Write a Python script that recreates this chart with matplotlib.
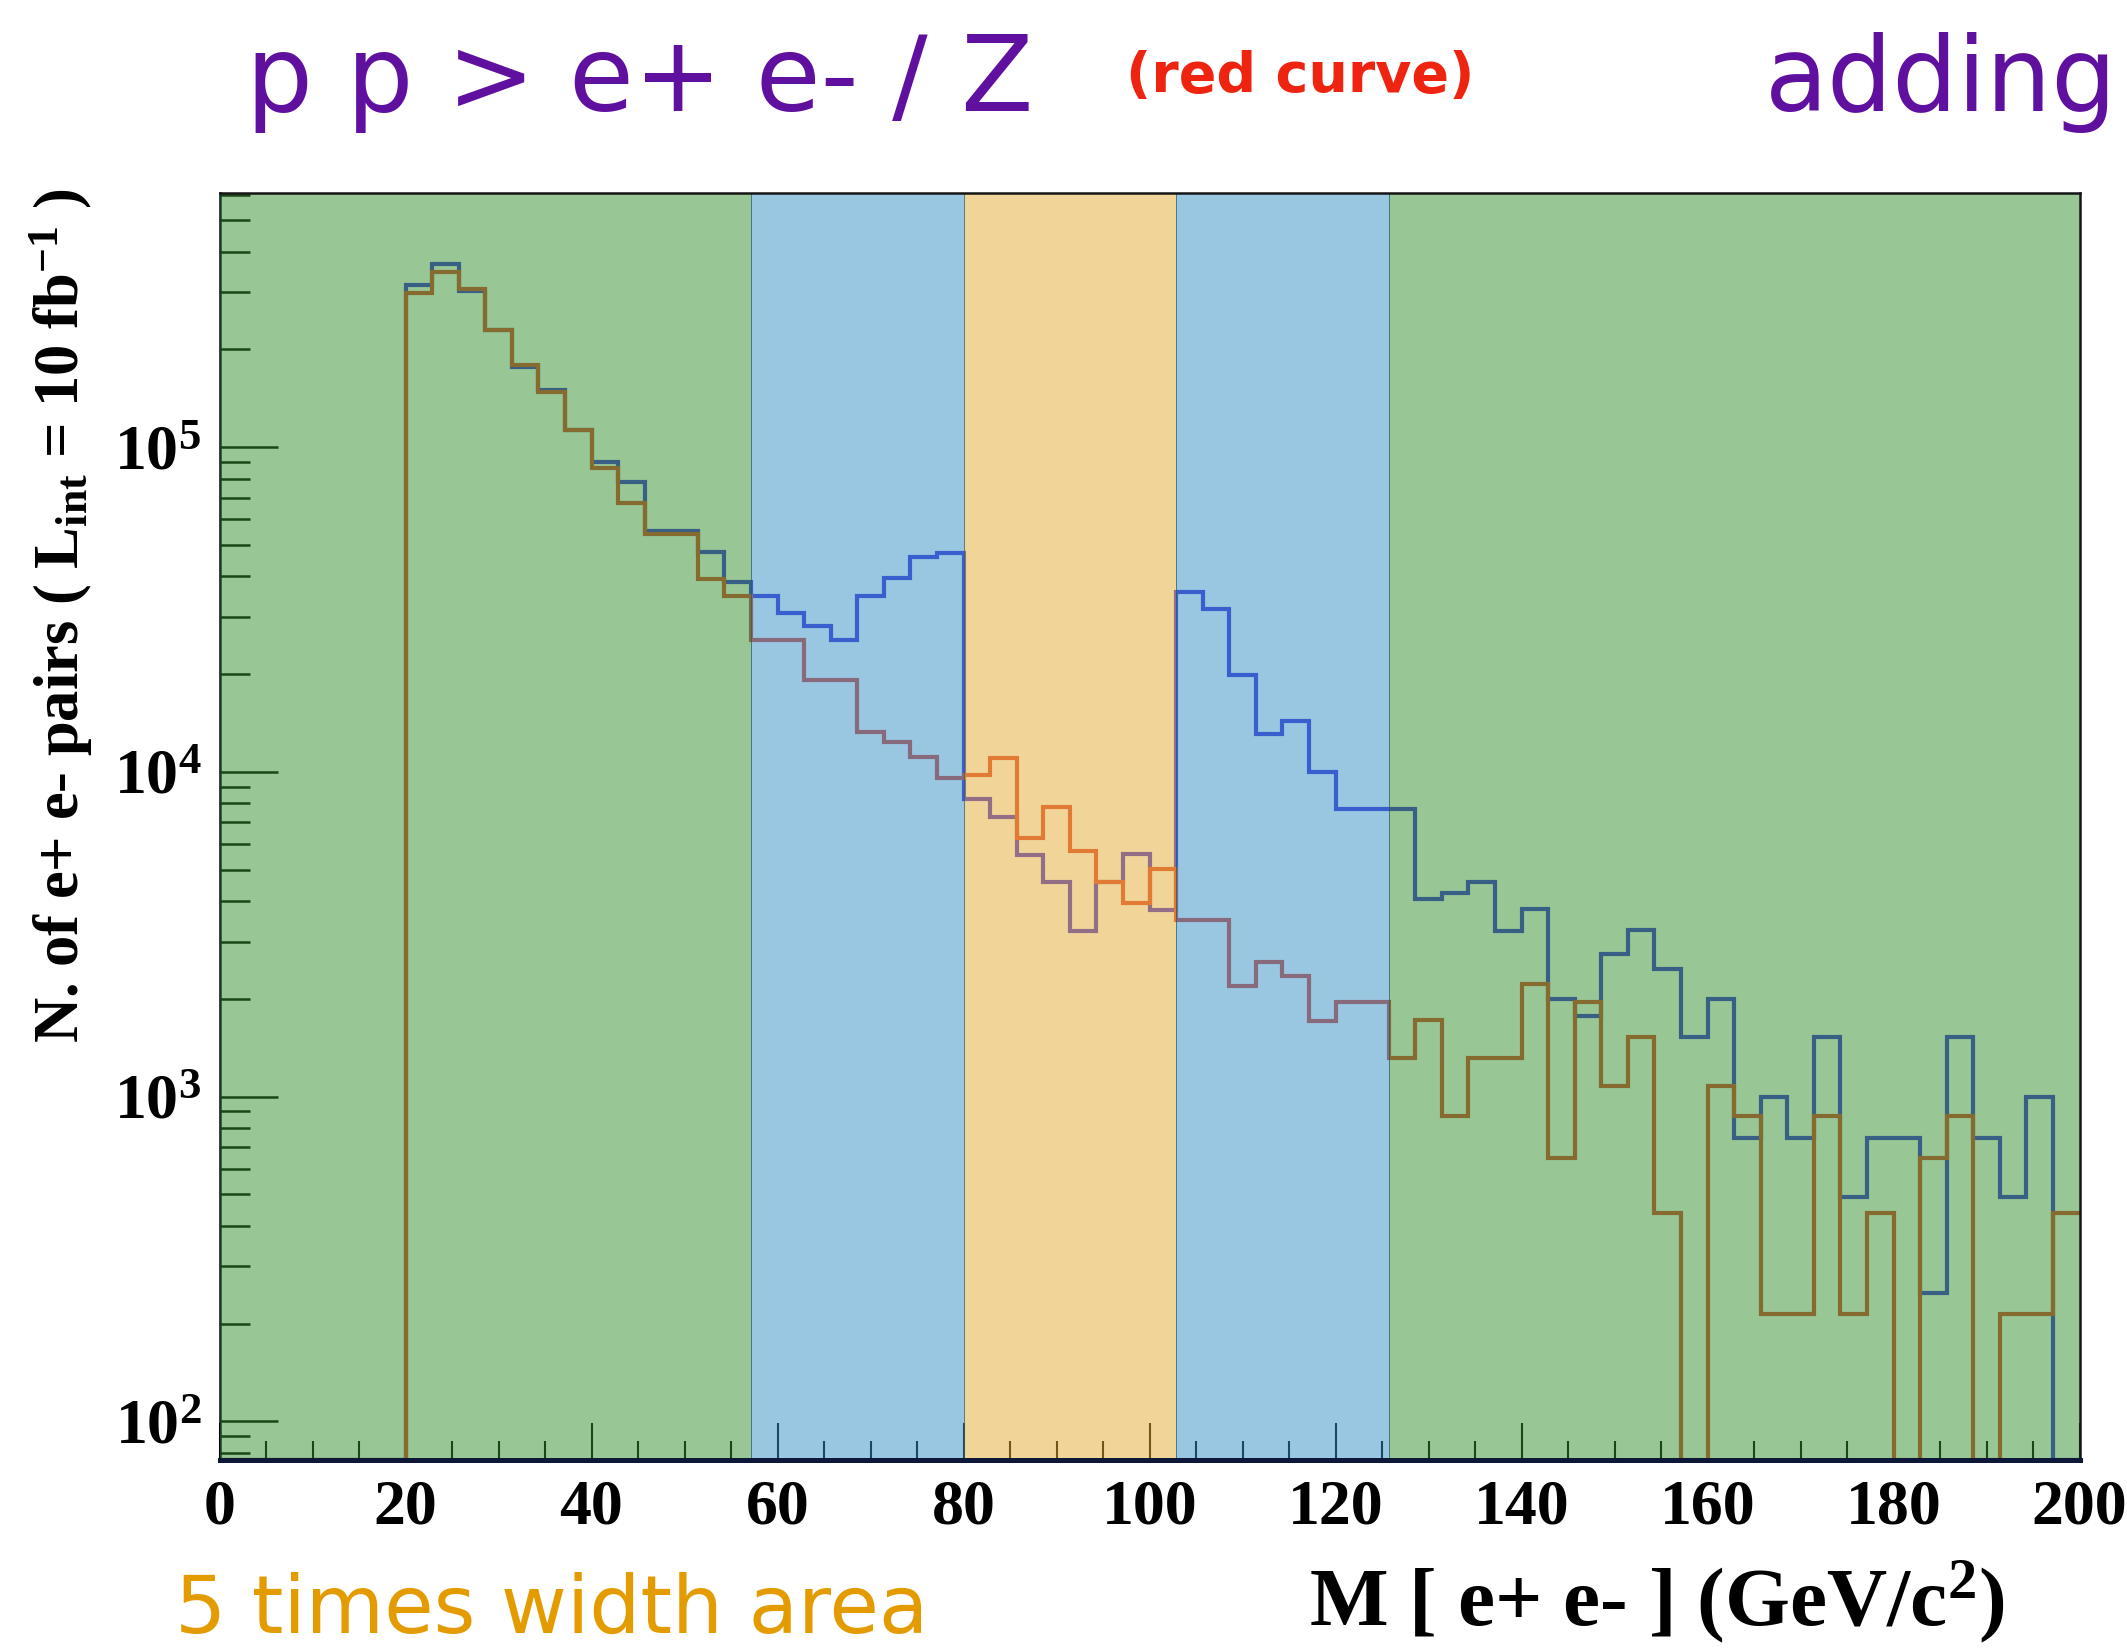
import numpy as np
import matplotlib
matplotlib.use("Agg")
import matplotlib.pyplot as plt
from matplotlib.ticker import FixedLocator, MultipleLocator, LogLocator, LogFormatterMathtext, NullFormatter

# ---- histogram definition: 70 bins between 0 and 200 GeV/c^2 ----
bin_edges = np.linspace(0.0, 200.0, 71)

# e+ e- pairs per bin, Drell-Yan / Z only (red curve)
counts_z = [
    0, 0, 0, 0, 0, 0, 0,
    299000, 347000, 307000, 230000, 179500, 147500, 113000, 86100, 67500, 54200,
    54200, 39300, 34900, 25500, 25500, 19200, 19200, 13300, 12400, 11100,
    9600, 9780, 11000, 6280, 7820, 5690, 4570, 3950, 5040, 3490,
    3490, 2190, 2600, 2350, 1710, 1950, 1950, 1315, 1720, 869,
    1315, 1315, 2215, 648, 1950, 1080, 1530, 437, 0, 1080,
    869, 214, 214, 869, 214, 437, 0, 648, 869, 0,
    214, 214, 437,
]

# e+ e- pairs per bin after adding the extra contribution (blue curve)
counts_added = [
    0, 0, 0, 0, 0, 0, 0,
    315000, 366000, 302000, 230000, 177000, 150000, 113000, 90300, 78300, 55100,
    55100, 47700, 38400, 34900, 30900, 28100, 25400, 34900, 39500, 45800,
    47100, 8260, 7270, 5540, 4570, 3240, 4570, 5570, 3760, 35900,
    31700, 19900, 13100, 14400, 10000, 7670, 7670, 7670, 4060, 4250,
    4570, 3240, 3780, 2000, 1770, 2740, 3260, 2480, 1525, 2000,
    743, 1000, 743, 1525, 491, 743, 743, 249, 1525, 743,
    491, 1000, 0,
]

# mass windows shaded behind the curves
band_edges = [0.0, 57.14, 80.0, 102.86, 125.71, 200.0]
band_colors = ["#338f2d", "#358fc3", "#e5ad33", "#358fc3", "#338f2d"]

x_major_ticks = [0, 20, 40, 60, 80, 100, 120, 140, 160, 180, 200]
y_limits = (76.0, 6.05e5)

# ---- fonts ----
plt.rcParams["font.family"] = ["Liberation Serif", "DejaVu Serif"]
plt.rcParams["font.weight"] = "bold"
plt.rcParams["axes.labelweight"] = "bold"
plt.rcParams["mathtext.fontset"] = "custom"
plt.rcParams["mathtext.rm"] = "Liberation Serif:bold"
plt.rcParams["mathtext.it"] = "Liberation Serif:bold"
plt.rcParams["mathtext.bf"] = "Liberation Serif:bold"
plt.rcParams["mathtext.default"] = "regular"

W, H = 2127, 1651
fig = plt.figure(figsize=(W / 100, H / 100), dpi=100)
fig.patch.set_facecolor("white")

ax_left, ax_right, ax_top, ax_bottom = 219.5, 2079.5, 193.4, 1460.0
ax = fig.add_axes([ax_left / W, 1 - ax_bottom / H,
                   (ax_right - ax_left) / W, (ax_bottom - ax_top) / H])
ax.set_facecolor("white")
ax.set_yscale("log")
ax.set_xlim(bin_edges[0], bin_edges[-1])
ax.set_ylim(*y_limits)
y_floor = ax.get_ylim()[0]

# histogram outlines; empty bins sit on the frame floor
ax.stairs(np.maximum(np.asarray(counts_added, float), y_floor), bin_edges,
          baseline=None, color="#3f2fdd", lw=3.0, zorder=2)
ax.stairs(np.maximum(np.asarray(counts_z, float), y_floor), bin_edges,
          baseline=None, color="#db4737", lw=3.0, zorder=2.1)

# translucent mass windows laid over everything inside the frame
for lo, hi, col in zip(band_edges[:-1], band_edges[1:], band_colors):
    ax.axvspan(lo, hi, facecolor=col, edgecolor="#1d5a6a", lw=0.7,
               alpha=0.5, zorder=3)

# ---- axes styling ----
ax.set_axisbelow(True)
ax.xaxis.set_major_locator(FixedLocator(x_major_ticks))
ax.xaxis.set_minor_locator(MultipleLocator(5))
ax.yaxis.set_major_locator(LogLocator(base=10, numticks=10))
ax.yaxis.set_minor_locator(LogLocator(base=10, subs=np.arange(2, 10), numticks=20))
ax.yaxis.set_major_formatter(LogFormatterMathtext())
ax.yaxis.set_minor_formatter(NullFormatter())

ax.tick_params(axis="y", which="major", direction="in", length=41.8, width=1.8,
               color="black", pad=13, labelsize=46, right=False)
ax.tick_params(axis="y", which="minor", direction="in", length=21.6, width=1.8,
               color="black", right=False)
ax.tick_params(axis="x", which="major", direction="in", length=26.5, width=1.5,
               color="black", pad=14, labelsize=46, top=False)
ax.tick_params(axis="x", which="minor", direction="in", length=13.7, width=1.5,
               color="black", top=False)

ax.spines["left"].set_zorder(2.5)
ax.spines["left"].set_linewidth(1.8)
ax.spines["left"].set_color("black")
for side in ("top", "right"):
    ax.spines[side].set_zorder(4)
    ax.spines[side].set_linewidth(1.8)
    ax.spines[side].set_color("#151515")
ax.spines["bottom"].set_zorder(4)
ax.spines["bottom"].set_linewidth(3.6)
ax.spines["bottom"].set_color("#0d1838")

ax.set_xlabel(r"M [ e+ e- ] (GeV/c$^{2}$)", fontsize=60, fontweight="bold")
ax.xaxis.label.set_verticalalignment("center")
ax.xaxis.set_label_coords((1657 - ax_left) / (ax_right - ax_left),
                          (ax_bottom - 1602) / (ax_bottom - ax_top))

ax.set_ylabel(r"N. of e+ e- pairs ( L$_{int}$ = 10 fb$^{-1}$ )", fontsize=45,
              fontweight="bold")
ax.yaxis.label.set_verticalalignment("center")
ax.yaxis.set_label_coords((61 - ax_left) / (ax_right - ax_left),
                          (ax_bottom - 616) / (ax_bottom - ax_top))

# ---- annotations around the frame ----
sans = ["DejaVu Sans"]
fig.text(246 / W, 1 - 111 / H, "p p > e+ e- / Z", fontsize=76, family=sans,
         weight="normal", color="#60109f", ha="left", va="baseline")
fig.text(1126 / W, 1 - 92 / H, "(red curve)", fontsize=40, family=sans,
         weight="bold", color="#ee2410", ha="left", va="baseline")
fig.text(1765 / W, 1 - 111 / H, "adding", fontsize=74, family=sans,
         weight="normal", color="#60109f", ha="left", va="baseline")
fig.text(175 / W, 1 - 1633 / H, "5 times width area", fontsize=58, family=sans,
         weight="normal", color="#e39b00", ha="left", va="baseline")

fig.savefig("out.png", dpi=100, facecolor="white")
